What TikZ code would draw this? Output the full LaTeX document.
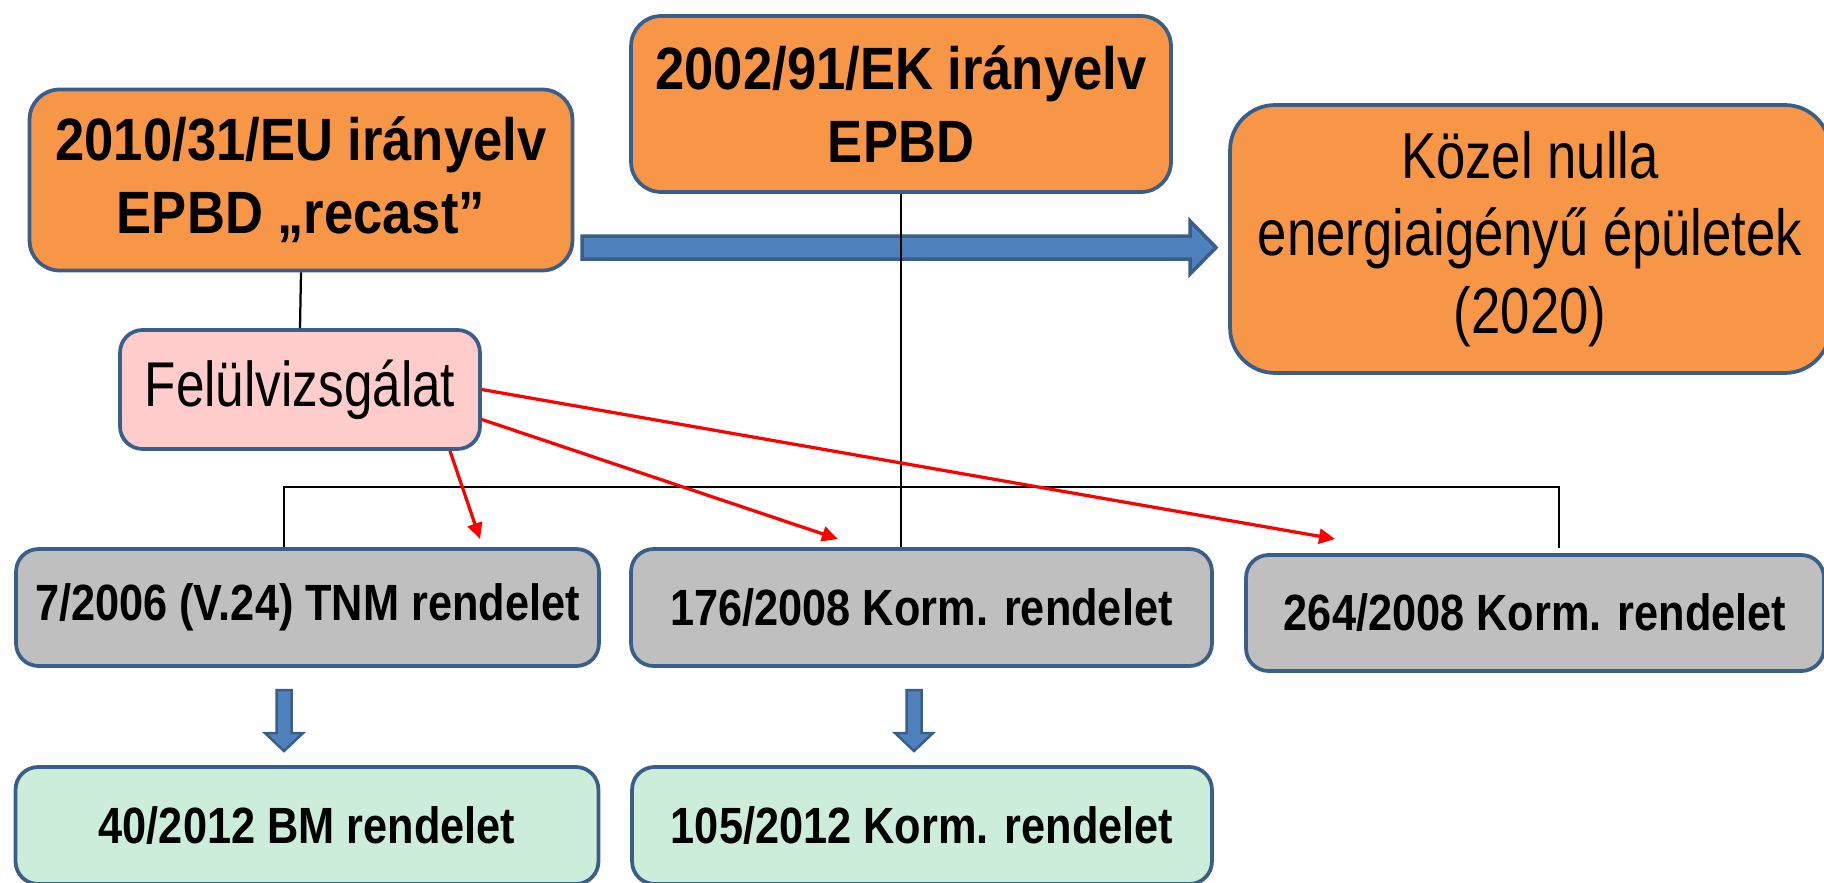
\documentclass[tikz,border=0pt]{standalone}
\usepackage{fontspec}
\setmainfont{Liberation Sans}
\newfontfamily\gruesa[FakeStretch=0.88]{Liberation Sans}
\newfontfamily\estrecha[FakeStretch=0.85]{Liberation Sans}
\newfontfamily\fina[FakeStretch=0.81]{Liberation Sans}
\usetikzlibrary{arrows.meta}
\definecolor{naranja}{RGB}{247,150,70}
\definecolor{borde}{RGB}{58,94,138}
\definecolor{azul}{RGB}{79,129,189}
\definecolor{rosa}{RGB}{255,204,204}
\definecolor{gris}{RGB}{191,191,191}
\definecolor{verde}{RGB}{204,237,218}
\tikzset{
  caja/.style={draw=borde,line width=0.075cm,rounded corners=0.45cm,align=center,inner sep=0pt},
  directiva/.style={caja,fill=naranja,rounded corners=0.6cm,
    font=\gruesa\bfseries\fontsize{34}{41.5}\selectfont},
  rendelet/.style={caja,fill=gris,minimum height=2.34cm,
    font=\estrecha\bfseries\fontsize{29}{35}\selectfont},
  uj/.style={rendelet,fill=verde},
  linea/.style={black,line width=0.045cm},
  flecha/.style={red,line width=0.065cm,-{Triangle[length=0.32cm,width=0.3cm]}},
  bloque/.style={draw=borde,fill=azul,line width=0.07cm,line join=miter}
}
\begin{document}
\begin{tikzpicture}[x=0.02cm,y=-0.02cm]
    \useasboundingbox (0,0) rectangle (1824,882);
    \coordinate (bl) at (284,487);
    \coordinate (br) at (1559,487);
    \coordinate (brb) at (1559,548);
    \coordinate (f1) at (480,539);
    \coordinate (f2) at (838,539);
    \coordinate (f3) at (1335,539);
    % Cajas
    \node[directiva,minimum width=10.86cm,minimum height=3.62cm] (recast) at (301,180)
      {2010/31/EU irányelv\\EPBD „recast”};
    \node[directiva,minimum width=10.8cm,minimum height=3.52cm] (irany) at (901,104)
      {2002/91/EK irányelv\\EPBD};
    \node[caja,fill=naranja,rounded corners=0.9cm,minimum width=12cm,minimum height=5.36cm,
      font=\fina\fontsize{37}{44}\selectfont] (kozel) at (1530,239)
      {Közel nulla\\energiaigényű épületek\\(2020)};
    \node[caja,fill=rosa,minimum width=7.2cm,minimum height=2.38cm,
      font=\fina\fontsize{36}{43}\selectfont] (felul) at (300,389.5) {Felülvizsgálat};
    \node[rendelet,minimum width=11.66cm] (tnm) at (307.5,607.5) {7/2006 (V.24) TNM rendelet};
    \node[rendelet,minimum width=11.62cm] (k176) at (921.5,607.5) {176/2008 Korm. rendelet};
    \node[rendelet,minimum width=11.56cm,minimum height=2.32cm] (k264) at (1535,613) {264/2008 Korm. rendelet};
    \node[uj,minimum width=11.66cm] (bm40) at (307,825.5) {40/2012 BM rendelet};
    \node[uj,minimum width=11.6cm] (k105) at (922,825.5) {105/2012 Korm. rendelet};
    % Flechas azules
    \draw[bloque] (582,236) -- (1190,236) -- (1190,221) -- (1216,247.5) -- (1190,274)
      -- (1190,259) -- (582,259) -- cycle;
    \foreach \ax in {284,914}
      \draw[bloque,line width=0.05cm] (\ax-7.5,690) -- (\ax+7.5,690) -- (\ax+7.5,733)
        -- (\ax+19,733) -- (\ax,751) -- (\ax-19,733) -- (\ax-7.5,733) -- cycle;
    % Líneas
    \draw[linea] (recast.south) -- (felul.north);
    \draw[linea] (irany.south) -- (irany.south |- k176.north);
    \draw[linea] (bl |- tnm.north) -- (bl) -- (br) -- (brb);
    % Flechas rojas
    \draw[flecha] ([xshift=3cm]felul.south) -- (f1);
    \draw[flecha] ([yshift=-0.6cm]felul.east) -- (f2);
    \draw[flecha] (felul.east) -- (f3);
  \end{tikzpicture}
\end{document}
